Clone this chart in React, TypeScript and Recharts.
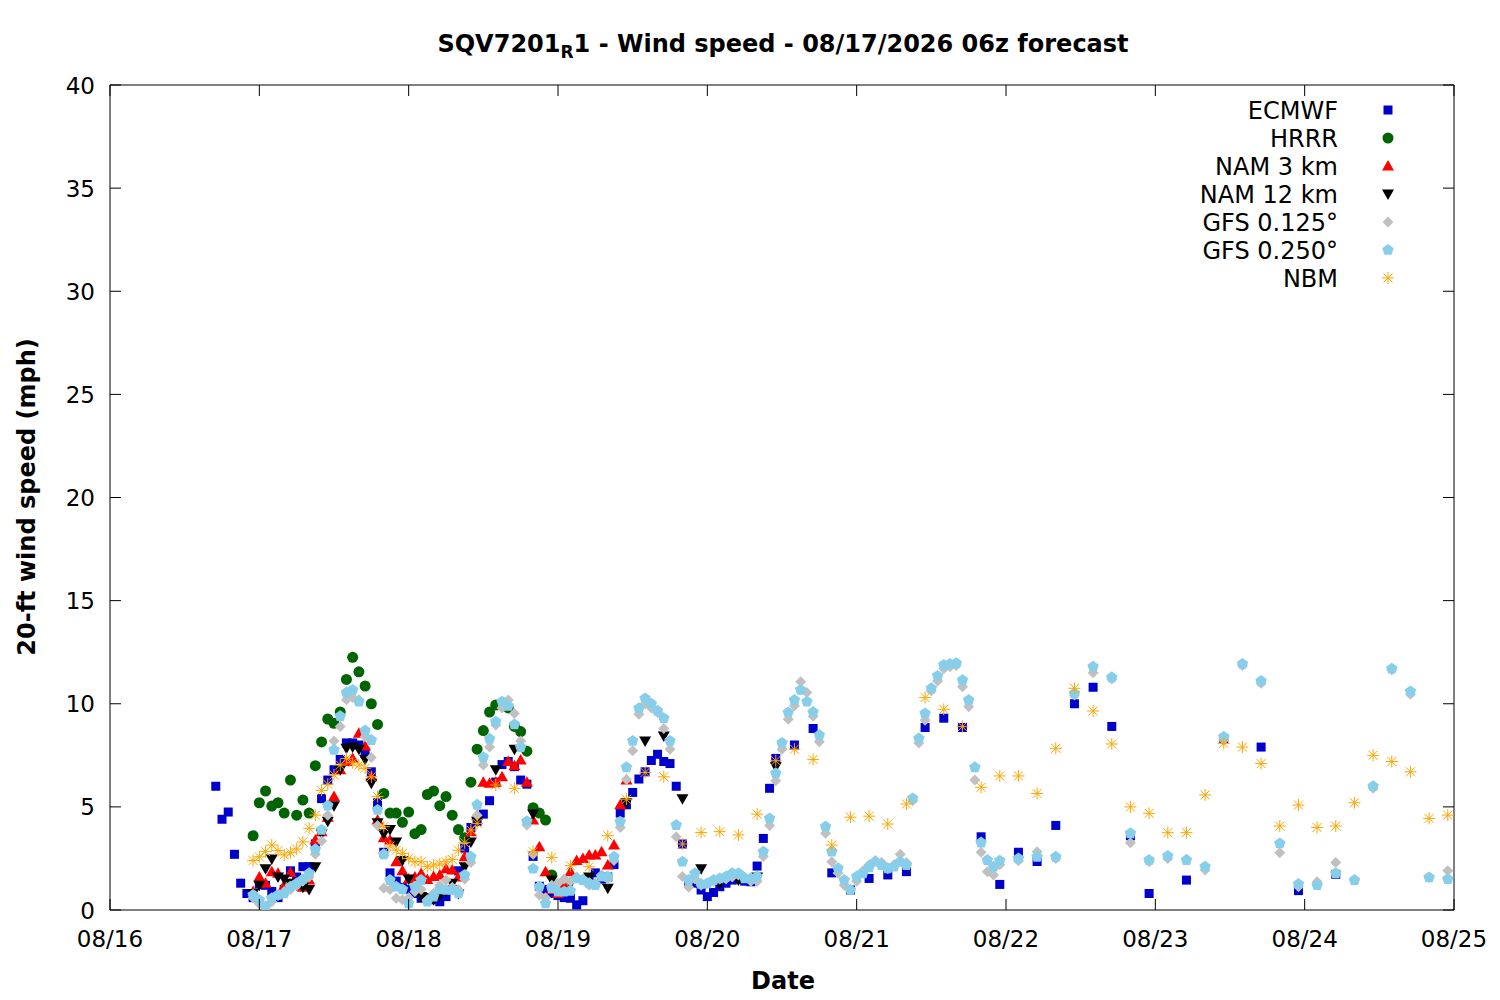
import { ScatterChart, Scatter, XAxis, YAxis, ReferenceArea } from 'recharts';

// hours are counted from 08/16 00h, one tick per day
const dayTicks = [0, 24, 48, 72, 96, 120, 144, 168, 192, 216];
const dayLabels = ['08/16', '08/17', '08/18', '08/19', '08/20', '08/21', '08/22', '08/23', '08/24', '08/25'];
const speedTicks = [0, 5, 10, 15, 20, 25, 30, 35, 40];

// ECMWF: hourly from h=17, 3-hourly from h=110, 6-hourly from h=167
const ecmwfHourly = [
  6.0, 4.4, 4.75, 2.7, 1.3, 0.8, 0.6, 1.25, 1.2, 0.9,
  0.6, 1.0, 1.9, 1.6, 2.1, 2.1, 3.2, 5.4, 6.3, 6.8,
  7.3, 8.1, 8.1, 8.0, 7.6, 6.7, 5.2, 2.8, 1.8, 1.4,
  1.1, 1.0, 0.8, 0.57, 0.6, 0.5, 0.4, 0.65, 1.0, 1.9,
  3.0, 4.0, 4.3, 4.65, 5.3, 6.2, 7.05, 7.2, 6.95, 6.3,
  6.1, 2.6, 1.15, 1.0, 0.8, 0.7, 0.6, 0.57, 0.25, 0.45,
  1.4, 1.8, 1.5, 1.6, 2.2, 4.7, 5.1, 5.7, 6.35, 6.7,
  7.25, 7.55, 7.2, 7.1, 6.0, 3.2, 1.4, 1.3, 0.97, 0.65,
  0.85, 1.13, 1.3, 1.45, 1.5, 1.4, 1.37, 2.13, 3.47, 5.9,
  7.35,
];
const ecmwf3h = [8.0, 8.8, 1.8, 0.97, 1.53, 1.7, 1.86, 8.85, 9.3, 8.85, 3.55, 1.24, 2.8, 2.35, 4.1, 10.0, 10.8, 8.9, 3.6];
const ecmwf6h = [0.8, 1.45, 8.3, 7.9, 0.94, 1.73];

// HRRR: hourly from h=23
const hrrrHourly = [
  3.6, 5.2, 5.77, 5.04, 5.2, 4.7, 6.3, 4.6, 5.33, 4.7,
  7.0, 8.15, 9.26, 9.05, 9.6, 11.18, 12.25, 11.55, 10.86, 10.0,
  9.0, 5.65, 4.7, 4.7, 4.25, 4.75, 3.7, 3.9, 5.6, 5.77,
  5.06, 5.5, 4.6, 3.9, 3.5, 6.2, 7.8, 8.7, 9.6, 9.94,
  10.0, 9.8, 8.9, 8.65, 7.7, 4.96, 4.7, 4.36, 1.7,
];

// NAM 3 km: hourly from h=23
const nam3Hourly = [
  0.9, 1.6, 1.3, 1.86, 1.78, 1.2, 1.82, 1.3, 1.1, 1.45,
  3.4, 3.8, 4.5, 5.5, 6.8, 7.2, 7.35, 8.57, 7.95, 6.46,
  4.36, 3.5, 3.4, 2.34, 1.9, 1.5, 1.6, 1.77, 1.48, 1.62,
  1.7, 2.0, 1.94, 1.6, 2.58, 3.8, 4.6, 6.2, 6.14, 6.2,
  6.46, 7.2, 7.0, 7.27, 6.2, 4.36, 3.07, 1.86, 1.0, 0.8,
  1.2, 1.86, 2.4, 2.5, 2.67, 2.67, 2.83, 2.18, 3.15, 5.1, 6.3,
];

// NAM 12 km: hourly from h=23, 3-hourly from h=62
const nam12Hourly = [
  0.8, 1.2, 2.0, 2.47, 1.6, 1.5, 1.3, 1.2, 1.1, 1.0,
  2.1, 3.7, 4.3, 5.05, 6.8, 7.84, 7.9, 7.8, 7.3, 6.14,
  4.23, 3.7, 3.9, 3.3, 2.4, 1.5, 1.0, 0.65, 0.6, 0.5,
  0.7, 0.9, 1.3, 0.8, 2.1, 3.3, 4.3,
];
const nam12_3h = [6.8, 7.8, 4.65, 1.45, 1.3, 1.6, 1.05, 5.2, 8.2, 8.44, 5.4, 2.0, 1.3, 1.45, 1.6, 6.95];

// GFS 0.125: hourly from h=23, 3-hourly from h=146
const gfs125Hourly = [
  0.6, 0.3, 0.2, 0.4, 0.7, 0.9, 1.0, 1.2, 1.4, 1.6,
  2.7, 3.35, 4.6, 8.2, 8.9, 10.2, 10.3, 10.2, 8.4, 7.4,
  4.1, 1.05, 1.0, 0.57, 0.5, 0.6, 0.9, 1.0, 0.5, 0.8,
  1.2, 1.45, 1.1, 1.0, 1.5, 2.3, 4.6, 7.03, 7.9, 8.97,
  9.8, 10.18, 9.53, 8.2, 4.12, 2.7, 0.73, 0.6, 1.2, 1.3,
  1.5, 1.4, 1.6, 1.5, 1.2, 1.3, 1.7, 1.5, 2.4, 4.0,
  6.33, 7.72, 9.49, 10.0, 9.8, 9.57, 8.8, 7.8, 3.55, 1.62,
  1.1, 1.5, 1.2, 1.3, 1.4, 1.5, 1.5, 1.6, 1.7, 1.6,
  1.4, 1.4, 2.6, 4.1, 6.27, 7.8, 9.25, 9.9, 11.07, 10.55,
  9.4, 8.16, 3.72, 2.34, 1.8, 1.2, 1.0, 1.4, 1.9, 2.2,
  2.4, 2.3, 2.0, 2.2, 2.7, 2.3, 5.3, 8.1, 9.2, 10.63,
  11.1, 11.7, 11.8, 11.85, 10.83, 9.86, 6.3, 2.8, 1.86, 1.7,
  2.2,
];
const gfs125_3h = [2.39, 2.83, 2.5, 10.42, 11.5, 11.2, 3.26, 2.34, 2.5, 2.46, 1.94, 8.24, 11.85, 11.0, 2.78, 1.13, 1.37, 2.3, 1.45, 5.9, 11.65, 10.46, 1.58, 1.9];

// GFS 0.250: hourly from h=23, 3-hourly from h=146
const gfs250Hourly = [
  0.73, 0.48, 0.16, 0.57, 0.73, 0.8, 1.13, 1.29, 1.49, 1.78,
  2.94, 3.88, 5.06, 7.76, 9.4, 10.54, 10.67, 10.1, 8.7, 8.24,
  4.85, 2.7, 1.45, 1.13, 1.0, 0.32, 1.13, 1.45, 0.4, 0.65,
  1.0, 0.97, 0.97, 0.8, 1.7, 2.58, 5.1, 7.4, 8.3, 9.13,
  10.1, 9.9, 9.0, 7.9, 4.3, 2.0, 1.13, 0.32, 1.05, 0.89,
  0.89, 0.93, 1.53, 1.45, 1.3, 1.2, 1.62, 1.62, 2.58, 4.28,
  6.92, 8.2, 9.78, 10.26, 10.0, 9.66, 9.3, 8.2, 4.12, 2.34,
  1.45, 1.78, 1.26, 1.29, 1.45, 1.53, 1.62, 1.78, 1.78, 1.53,
  1.53, 1.62, 2.83, 4.44, 6.63, 8.1, 9.58, 10.18, 10.67, 10.1,
  9.6, 8.48, 4.04, 2.83, 2.02, 1.45, 0.97, 1.62, 1.78, 2.07,
  2.34, 2.18, 2.02, 2.1, 2.34, 2.18, 5.41, 8.32, 9.53, 10.75,
  11.35, 11.88, 11.93, 11.96, 11.15, 10.18, 6.92, 3.27, 2.42, 2.1,
  2.39,
];
const gfs250_3h = [2.5, 2.58, 2.58, 10.5, 11.8, 11.28, 3.72, 2.42, 2.62, 2.42, 2.1, 8.4, 11.93, 11.1, 3.23, 1.26, 1.2, 1.78, 1.45, 6.0, 11.7, 10.6, 1.58, 1.5];

// NBM: hourly from h=23, 3-hourly from h=62
const nbmHourly = [
  2.4, 2.58, 2.83, 3.15, 2.88, 2.67, 2.78, 2.96, 3.3, 3.96,
  4.6, 5.8, 6.1, 6.55, 7.03, 7.35, 7.14, 7.03, 6.87, 6.46,
  5.5, 4.04, 3.1, 2.9, 2.75, 2.5, 2.34, 2.34, 2.1, 2.18,
  2.23, 2.34, 2.45, 2.9, 3.26, 3.88, 4.2,
];
const nbm3h = [
  6.06, 5.9, 2.83, 2.55, 2.15, 2.1, 3.6, 5.37, 6.67, 6.46,
  3.2, 3.76, 3.8, 3.64, 4.65, 7.24, 7.8, 7.3, 3.15, 4.5,
  4.55, 4.17, 5.14, 10.3, 9.73, 8.89, 5.95, 6.5, 6.5, 5.65,
  7.84, 10.75, 9.65, 8.05, 5.0, 4.69, 3.75, 3.75, 5.58, 8.08,
  7.9, 7.1, 4.07, 5.09, 4.0, 4.07, 5.2, 7.5, 7.2, 6.7,
  4.44, 4.6,
];

type Pt = { x: number; y: number };
const run = (start: number, step: number, values: number[]): Pt[] =>
  values.map((v, i) => ({ x: start + i * step, y: v }));

const ecmwf = [...run(17, 1, ecmwfHourly), ...run(110, 3, ecmwf3h), ...run(167, 6, ecmwf6h)];
const hrrr = run(23, 1, hrrrHourly);
const nam3 = run(23, 1, nam3Hourly);
const nam12 = [...run(23, 1, nam12Hourly), ...run(62, 3, nam12_3h)];
const gfs125 = [...run(23, 1, gfs125Hourly), ...run(146, 3, gfs125_3h)];
const gfs250 = [...run(23, 1, gfs250Hourly), ...run(146, 3, gfs250_3h)];
const nbm = [...run(23, 1, nbmHourly), ...run(62, 3, nbm3h)];

const FONT = 'DejaVu Sans';
const PLOT = { left: 110, top: 85, right: 1454, bottom: 910 };
const TICK = 11;

const C = {
  ecmwf: '#0000cc',
  hrrr: '#006400',
  nam3: '#ff0000',
  nam12: '#000000',
  gfs125: '#c0c0c0',
  gfs250: '#87ceeb',
  nbm: '#ffa500',
};

function Square({ cx, cy }: any) {
  return <rect x={cx - 4.5} y={cy - 4.5} width={9} height={9} fill={C.ecmwf} />;
}
function Circle({ cx, cy }: any) {
  return <circle cx={cx} cy={cy} r={5.5} fill={C.hrrr} />;
}
function TriUp({ cx, cy }: any) {
  return <polygon points={`${cx},${cy - 6} ${cx + 6},${cy + 4.5} ${cx - 6},${cy + 4.5}`} fill={C.nam3} />;
}
function TriDown({ cx, cy }: any) {
  return <polygon points={`${cx},${cy + 6} ${cx + 6},${cy - 4.5} ${cx - 6},${cy - 4.5}`} fill={C.nam12} />;
}
function Diamond({ cx, cy }: any) {
  return <polygon points={`${cx},${cy - 5.5} ${cx + 5.5},${cy} ${cx},${cy + 5.5} ${cx - 5.5},${cy}`} fill={C.gfs125} />;
}
function Pentagon({ cx, cy }: any) {
  const pts = [0, 1, 2, 3, 4]
    .map(k => {
      const a = -Math.PI / 2 + (k * 2 * Math.PI) / 5;
      return `${cx + 6 * Math.cos(a)},${cy + 6 * Math.sin(a)}`;
    })
    .join(' ');
  return <polygon points={pts} fill={C.gfs250} />;
}
function Star({ cx, cy }: any) {
  const d = 4.5;
  return (
    <g stroke={C.nbm} strokeWidth={1}>
      <line x1={cx - 6} y1={cy} x2={cx + 6} y2={cy} />
      <line x1={cx} y1={cy - 6} x2={cx} y2={cy + 6} />
      <line x1={cx - d} y1={cy - d} x2={cx + d} y2={cy + d} />
      <line x1={cx - d} y1={cy + d} x2={cx + d} y2={cy - d} />
    </g>
  );
}

const legendItems = [
  { name: 'ECMWF', Shape: Square },
  { name: 'HRRR', Shape: Circle },
  { name: 'NAM 3 km', Shape: TriUp },
  { name: 'NAM 12 km', Shape: TriDown },
  { name: 'GFS 0.125°', Shape: Diamond },
  { name: 'GFS 0.250°', Shape: Pentagon },
  { name: 'NBM', Shape: Star },
];

function XTick({ x, payload }: any) {
  const i = dayTicks.indexOf(payload.value);
  return (
    <g>
      <line x1={x} x2={x} y1={PLOT.bottom} y2={PLOT.bottom - TICK} stroke="#000" />
      <line x1={x} x2={x} y1={PLOT.top} y2={PLOT.top + TICK} stroke="#000" />
      <text x={x} y={PLOT.bottom + 37} textAnchor="middle" fontFamily={FONT} fontSize={23} fill="#000">
        {dayLabels[i]}
      </text>
    </g>
  );
}

function YTick({ y, payload }: any) {
  return (
    <g>
      <line x1={PLOT.left} x2={PLOT.left + TICK} y1={y} y2={y} stroke="#000" />
      <line x1={PLOT.right} x2={PLOT.right - TICK} y1={y} y2={y} stroke="#000" />
      <text x={PLOT.left - 15} y={y + 8.5} textAnchor="end" fontFamily={FONT} fontSize={23} fill="#000">
        {payload.value}
      </text>
    </g>
  );
}

export default function App() {
  return (
    <div style={{ position: 'absolute', left: 0, top: 0, width: 1500, height: 1000, background: '#fff' }}>
      <ScatterChart width={1500} height={1000} margin={{ top: 85, right: 46, bottom: 30, left: 50 }}>
        <XAxis
          type="number" dataKey="x" domain={[0, 216]} ticks={dayTicks} allowDataOverflow
          height={60} tickSize={0} tickMargin={0} axisLine={false} tick={<XTick />} interval={0}
        />
        <YAxis
          type="number" dataKey="y" domain={[0, 40]} ticks={speedTicks} allowDataOverflow
          width={60} tickSize={0} tickMargin={0} axisLine={false} tick={<YTick />} interval={0}
        />
        <ReferenceArea x1={0} x2={216} y1={0} y2={40} fill="none" stroke="#000" strokeWidth={1} fillOpacity={0} />
        <Scatter name="ECMWF" data={ecmwf} shape={Square} isAnimationActive={false} />
        <Scatter name="HRRR" data={hrrr} shape={Circle} isAnimationActive={false} />
        <Scatter name="NAM 3 km" data={nam3} shape={TriUp} isAnimationActive={false} />
        <Scatter name="NAM 12 km" data={nam12} shape={TriDown} isAnimationActive={false} />
        <Scatter name="GFS 0.125°" data={gfs125} shape={Diamond} isAnimationActive={false} />
        <Scatter name="GFS 0.250°" data={gfs250} shape={Pentagon} isAnimationActive={false} />
        <Scatter name="NBM" data={nbm} shape={Star} isAnimationActive={false} />
      </ScatterChart>
      <svg width={1500} height={1000} style={{ position: 'absolute', left: 0, top: 0, pointerEvents: 'none' }}>
        <text x={783} y={52} textAnchor="middle" fontFamily={FONT} fontSize={24} fontWeight="bold" fill="#000">
          SQV7201<tspan fontSize={17} dy={6}>R</tspan><tspan dy={-6}>1 - Wind speed - 08/17/2026 06z forecast</tspan>
        </text>
        <text
          transform="translate(35,497) rotate(-90)" textAnchor="middle"
          fontFamily={FONT} fontSize={24} fontWeight="bold" fill="#000"
        >
          20-ft wind speed (mph)
        </text>
        <text x={783} y={989} textAnchor="middle" fontFamily={FONT} fontSize={24} fontWeight="bold" fill="#000">
          Date
        </text>
        {legendItems.map((it, i) => {
          const cy = 110 + i * 28;
          return (
            <g key={it.name}>
              <text x={1338} y={cy + 9} textAnchor="end" fontFamily={FONT} fontSize={24} fill="#000">
                {it.name}
              </text>
              <it.Shape cx={1388} cy={cy} />
            </g>
          );
        })}
      </svg>
    </div>
  );
}
